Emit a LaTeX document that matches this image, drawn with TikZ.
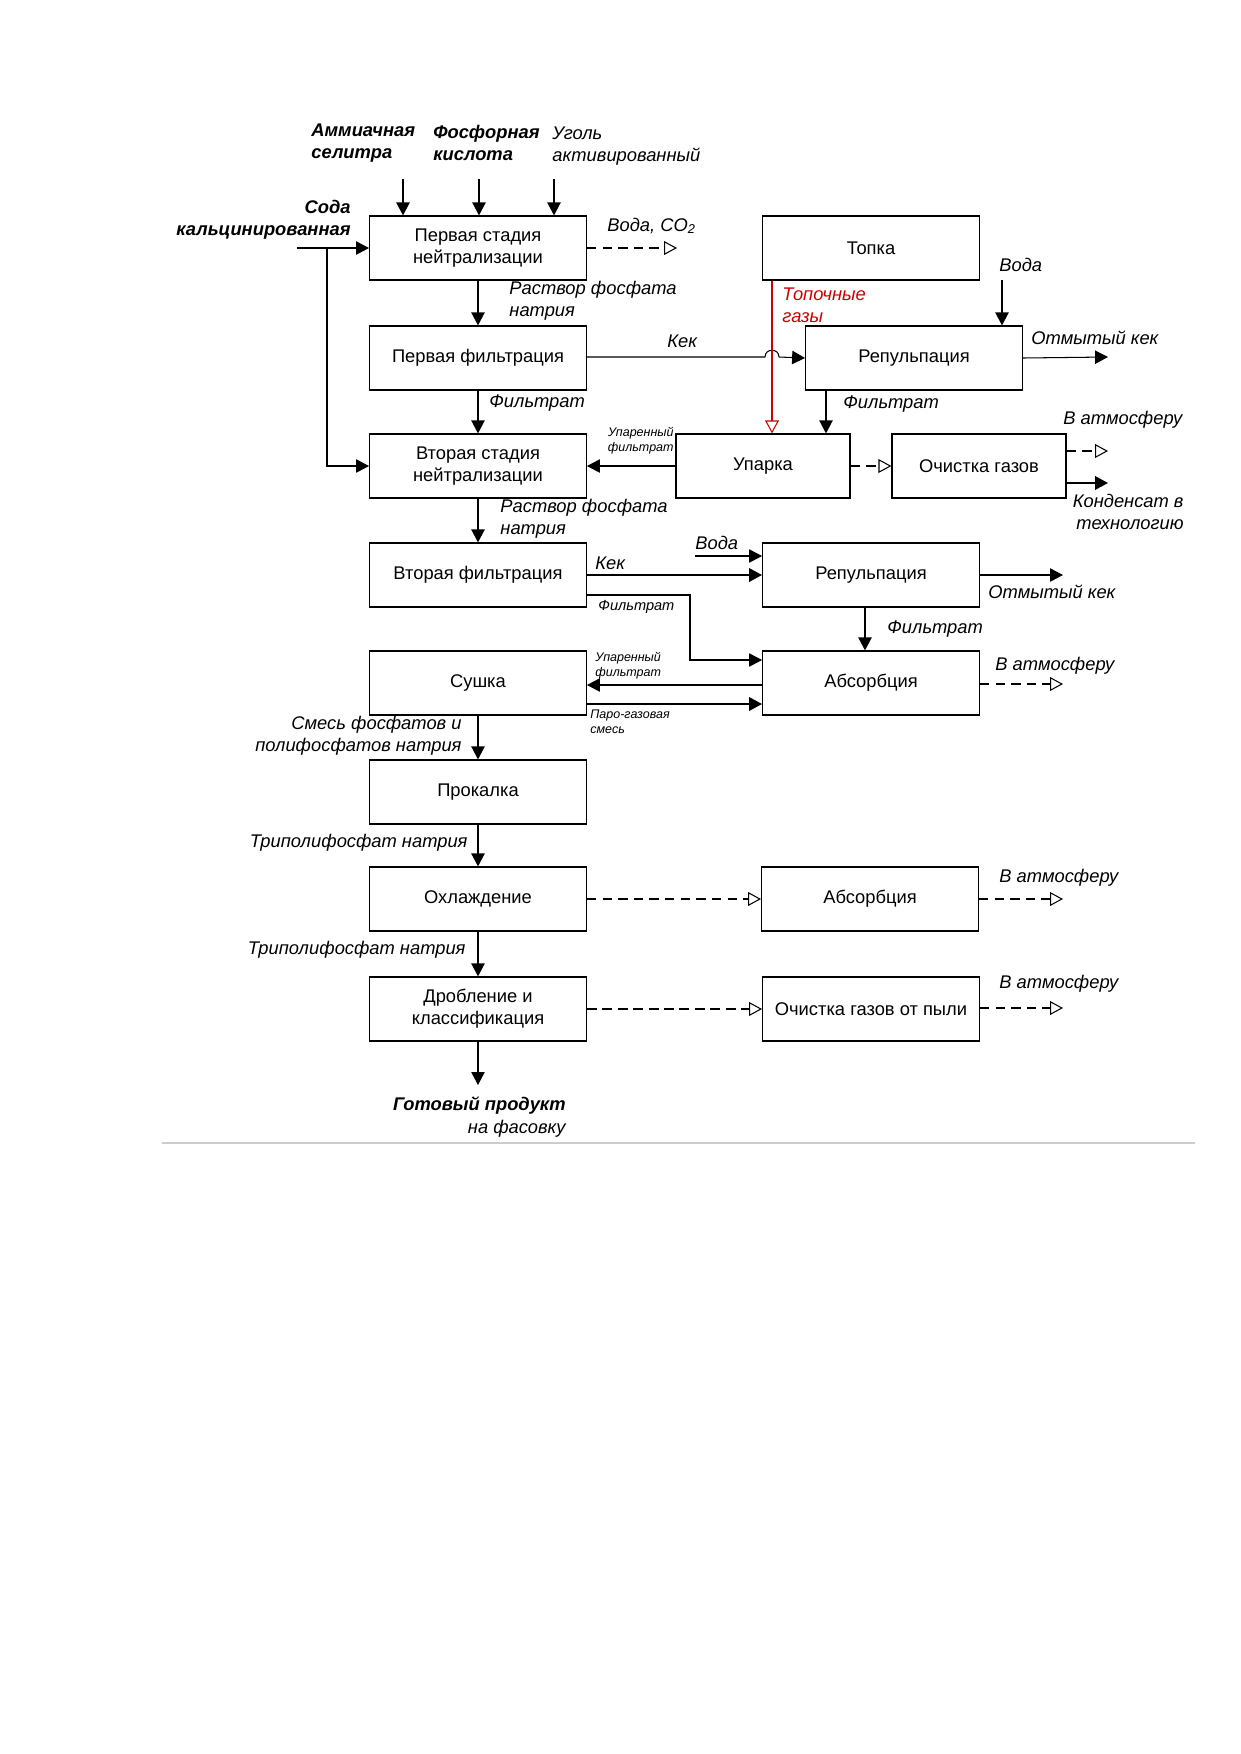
\documentclass[tikz,border=0pt]{standalone}
\usepackage{fontspec}
\setmainfont{Liberation Sans}
\usetikzlibrary{arrows.meta}
\begin{document}
\begin{tikzpicture}[x=0.48pt,y=-0.48pt,
  box/.style={draw, line width=0.6pt, minimum width=104pt, minimum height=30.7pt, align=center, font=\fontsize{8.8}{10.6}\selectfont, inner sep=1pt},
  nbox/.style={box, minimum width=83.5pt},
  arr/.style={line width=0.5pt, -{Triangle[length=6.2pt,width=6.4pt]}},
  tarr/.style={line width=1.1pt, -{Triangle[length=6.2pt,width=6.4pt]}},
  oarr/.style={line width=0.5pt, dash pattern=on 4.5pt off 3pt, -{Triangle[open,length=6.2pt,width=6.6pt]}},
  toarr/.style={line width=1.3pt, dash pattern=on 4.8pt off 2.6pt, -{Triangle[open,length=6.2pt,width=6.6pt,line width=0.5pt]}},
  lbl/.style={font=\fontsize{8.8}{10.6}\selectfont\itshape, inner sep=0pt, align=left},
  rlbl/.style={lbl, align=right},
  blbl/.style={font=\fontsize{8.8}{10.6}\selectfont\itshape\bfseries, inner sep=0pt},
  slbl/.style={font=\fontsize{6}{7.2}\selectfont\itshape, inner sep=0pt},
]
\useasboundingbox (0,0) rectangle (1241,1754);
\fill[white] (0,0) rectangle (1241,1754);

% boxes
\node[box] (n1) at (478,248) {Первая стадия\\нейтрализации};
\node[box] (f1) at (478,358) {Первая фильтрация};
\node[box] (n2) at (478,466) {Вторая стадия\\нейтрализации};
\node[box] (f2) at (478,575) {Вторая фильтрация};
\node[box] (dry) at (478,683) {Сушка};
\node[box] (calc) at (478,792) {Прокалка};
\node[box] (cool) at (478,899) {Охлаждение};
\node[box] (crush) at (478,1009) {Дробление и\\классификация};
\node[box] (furn) at (871,248) {Топка};
\node[box] (rep1) at (914,358) {Репульпация};
\node[nbox] (evap) at (763,466) {Упарка};
\node[nbox] (gas) at (979,466) {Очистка газов};
\node[box] (rep2) at (871,575) {Репульпация};
\node[box] (abs1) at (871,683) {Абсорбция};
\node[box] (abs2) at (870,899) {Абсорбция};
\node[box] (dust) at (871,1009) {Очистка газов от пыли};

% free-end coordinates
\coordinate (in1) at (403,179);
\coordinate (in2) at (479,179);
\coordinate (in3) at (554,179);
\coordinate (soda) at (297,248);
\coordinate (sodab) at (327,248);
\coordinate (co2) at (677,248);
\coordinate (hopa) at (765,357);
\coordinate (hopb) at (779,357);
\coordinate (rx) at (772,0);
\coordinate (w1) at (1002,280);
\coordinate (ok1) at (1108,357);
\coordinate (fx) at (826,0);
\coordinate (ga) at (1108,451);
\coordinate (gc) at (1108,483);
\coordinate (w2) at (695,556);
\coordinate (ok2) at (1063,575);
\coordinate (ff) at (690,595);
\coordinate (fa) at (690,660);
\coordinate (fx2) at (865,0);
\coordinate (ub) at (0,685);
\coordinate (pg) at (0,704);
\coordinate (at1) at (1063,684);
\coordinate (at2) at (1063,899);
\coordinate (at3) at (1063,1008);
\coordinate (prod) at (478,1085);

% connectors
\draw[arr] (in1) -- (in1 |- n1.north);
\draw[arr] (in2) -- (in2 |- n1.north);
\draw[arr] (in3) -- (in3 |- n1.north);
\draw[arr] (soda) -- (n1.west);
\draw[arr] (sodab) -- (sodab |- n2.west) -- (n2.west);
\draw[oarr] (n1.east) -- (co2);
\draw[arr] (n1) -- (f1);
\draw[line width=0.5pt] (f1.east |- hopa) -- (hopa) .. controls (765,348) and (779,348) .. (hopb);
\draw[arr] (hopb) -- (rep1.west);
\draw[red!80!black, line width=0.5pt, -{Triangle[open,length=6.2pt,width=6.6pt]}] (furn.south -| rx) -- (evap.north -| rx);
\draw[arr] (w1) -- (w1 |- rep1.north);
\draw[arr] (rep1.east) -- (ok1);
\draw[arr] (f1) -- (n2);
\draw[arr] (rep1.south -| fx) -- (evap.north -| fx);
\draw[arr] (evap.west) -- (n2.east);
\draw[oarr] (evap.east) -- (gas.west);
\draw[oarr] (gas.east |- ga) -- (ga);
\draw[tarr] (gas.east |- gc) -- (gc);
\draw[arr] (n2) -- (f2);
\draw[tarr] (f2.east) -- (rep2.west);
\draw[arr] (w2) -- (w2 -| rep2.west);
\draw[arr] (rep2.east) -- (ok2);
\draw[arr] (f2.east |- ff) -- (ff) -- (fa) -- (abs1.west |- fa);
\draw[arr] (rep2.south -| fx2) -- (abs1.north -| fx2);
\draw[arr] (abs1.west |- ub) -- (dry.east |- ub);
\draw[tarr] (dry.east |- pg) -- (abs1.west |- pg);
\draw[oarr] (abs1.east |- at1) -- (at1);
\draw[arr] (dry) -- (calc);
\draw[arr] (calc) -- (cool);
\draw[arr] (cool) -- (crush);
\draw[oarr] (cool.east) -- (abs2.west);
\draw[oarr] (abs2.east) -- (at2);
\draw[arr] (crush.south) -- (prod);
\draw[toarr] (crush.east) -- (dust.west);
\draw[oarr] (dust.east |- at3) -- (at3);

% bottom rule
\draw[black!20, line width=0.8pt] (162,1143) -- (1195,1143);

% labels
\node[blbl, anchor=west, align=left] (l1) at (311,143) {Аммиачная\\селитра};
\node[blbl, anchor=west, align=left] (l2) at (433,143) {Фосфорная\\кислота};
\node[lbl, anchor=west] (l3) at (552,146) {Уголь\\активированный};
\node[blbl, anchor=east, align=right] (l4) at (351,220) {Сода\\кальцинированная};
\node[lbl, anchor=west] (l5) at (607,226) {Вода, CO\textsubscript{2}};
\node[lbl, anchor=west] (l6) at (509,301) {Раствор фосфата\\натрия};
\node[lbl, anchor=west] (l7) at (667,341) {Кек};
\node[lbl, anchor=west] (l8) at (999,265) {Вода};
\node[lbl, anchor=west, text=red!80!black] (l9) at (782,305) {Топочные\\газы};
\node[lbl, anchor=west] (l10) at (1031,338) {Отмытый кек};
\node[lbl, anchor=west] (l11) at (489,403) {Фильтрат};
\node[lbl, anchor=west] (l12) at (843,404) {Фильтрат};
\node[slbl, anchor=east, align=right] (l13) at (674,441) {Упаренный\\фильтрат};
\node[lbl, anchor=west] (l14) at (1063,420) {В атмосферу};
\node[rlbl, anchor=east] (l15) at (1184,512) {Конденсат в\\технологию};
\node[lbl, anchor=west] (l16) at (500,519) {Раствор фосфата\\натрия};
\node[lbl, anchor=west] (l17) at (595,563) {Кек};
\node[lbl, anchor=west] (l18) at (695,543) {Вода};
\node[lbl, anchor=west] (l19) at (988,592) {Отмытый кек};
\node[slbl, anchor=west, font=\fontsize{7}{8}\selectfont\itshape] (l20) at (598,607) {Фильтрат};
\node[lbl, anchor=west] (l21) at (887,629) {Фильтрат};
\node[slbl, anchor=west, align=left] (l22) at (595,666) {Упаренный\\фильтрат};
\node[slbl, anchor=west, align=left] (l23) at (590,722) {Паро-газовая\\смесь};
\node[lbl, anchor=west] (l24) at (995,666) {В атмосферу};
\node[rlbl, anchor=east] (l25) at (462,736) {Смесь фосфатов и\\полифосфатов натрия};
\node[lbl, anchor=east] (l26) at (468,843) {Триполифосфат натрия};
\node[lbl, anchor=east] (l27) at (466,950) {Триполифосфат натрия};
\node[lbl, anchor=west] (l28) at (999,878) {В атмосферу};
\node[lbl, anchor=west] (l29) at (999,984) {В атмосферу};
\node[rlbl, anchor=east] (l30) at (566,1117) {\textbf{Готовый продукт}\\на фасовку};
\end{tikzpicture}
\end{document}
